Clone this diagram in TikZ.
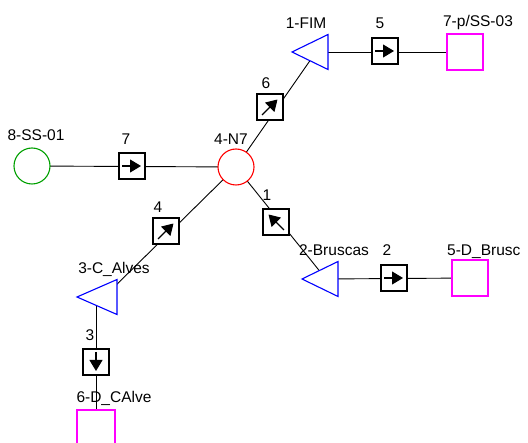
\documentclass[tikz,border=0pt]{standalone}
\usepackage{fontspec}
\setmainfont{Liberation Sans}
\usetikzlibrary{arrows.meta}
\definecolor{mag}{RGB}{255,0,255}
\definecolor{grn}{RGB}{0,160,0}
\definecolor{blu}{RGB}{0,0,255}
\definecolor{rd}{RGB}{255,0,0}
\begin{document}
\begin{tikzpicture}[x=1pt,y=-1pt,
  conn/.style={draw=black,line width=0.9pt},
  abox/.style={draw=black,fill=white,line width=1.5pt,minimum size=26pt,inner sep=0pt},
  arr/.style={line width=1.1pt,-{Triangle[length=11pt,width=13pt]}},
  circ/.style={circle,minimum size=36pt,inner sep=0pt,fill=white,line width=1.1pt},
  sq/.style={rectangle,minimum size=36pt,inner sep=0pt,fill=white,draw=mag,line width=1.3pt},
  tri/.style={draw=blu,fill=white,line width=1.1pt},
  lbl/.style={font=\fontsize{15.5}{17}\selectfont,inner sep=0pt,anchor=base}]
\useasboundingbox (0,0) rectangle (528,443);
\clip (0,0) rectangle (528,443);
% node centres
\coordinate (n7) at (236,167);
\coordinate (t1) at (316,52);
\coordinate (t2) at (326,279);
\coordinate (t3) at (104,297);
\coordinate (t3b) at (96,300);
\coordinate (s8c) at (32,166);
\coordinate (s7c) at (465,52);
\coordinate (s5c) at (470,278);
\coordinate (s6c) at (96,429);
% connectors
\draw[conn] (s8c) -- (n7);
\draw[conn] (n7) -- (t1);
\draw[conn] (t1) -- (s7c);
\draw[conn] (n7) -- (t2);
\draw[conn] (t2) -- (s5c);
\draw[conn] (n7) -- (t3);
\draw[conn] (t3b) -- (s6c);
% sources / nodes
\node[circ,draw=grn] (ss01) at (s8c) {};
\node[circ,draw=rd] (nN7) at (n7) {};
\node[sq] (p7) at (s7c) {};
\node[sq] (d5) at (s5c) {};
\node[sq,minimum size=38pt] (d6) at (s6c) {};
\draw[tri,shift={(t1)}] (-24,0) -- (12,-17.5) -- (12,17.5) -- cycle;
\draw[tri,shift={(t2)}] (-24,0) -- (12,-17.5) -- (12,17.5) -- cycle;
\draw[tri,shift={(t3)}] (-27,0) -- (13,-17.5) -- (13,17.5) -- cycle;
% arrow boxes
\node[abox] (b7) at (132,166) {};
\draw[arr] ([xshift=-10pt]b7.center) -- ([xshift=9pt]b7.center);
\node[abox] (b5) at (385,51) {};
\draw[arr] ([xshift=-10pt]b5.center) -- ([xshift=9pt]b5.center);
\node[abox] (b2) at (394,278) {};
\draw[arr] ([xshift=-10pt]b2.center) -- ([xshift=9pt]b2.center);
\node[abox] (b6) at (270,107) {};
\draw[arr] ([shift={(-8,8)}]b6.center) -- ([shift={(7.5,-7.5)}]b6.center);
\node[abox] (b4) at (166,231) {};
\draw[arr] ([shift={(-8,8)}]b4.center) -- ([shift={(7.5,-7.5)}]b4.center);
\node[abox] (b1) at (276,222) {};
\draw[arr] ([shift={(8,8)}]b1.center) -- ([shift={(-7.5,-7.5)}]b1.center);
\node[abox] (b3) at (96,362) {};
\draw[arr] ([yshift=10pt]b3.center) -- ([yshift=-9pt]b3.center);
% labels
\node[lbl] (l8) at (36,141) {8-SS-01};
\node[lbl] (l7) at (126,145) {7};
\node[lbl] (l4n) at (231,145) {4-N7};
\node[lbl] (l1f) at (306,29) {1-FIM};
\node[lbl] (l5) at (380,29) {5};
\node[lbl] (l7p) at (478,27) {7-p/SS-03};
\node[lbl] (l6) at (266,89) {6};
\node[lbl] (l4) at (158,213) {4};
\node[lbl] (l3c) at (114,274) {3-C\_Alves};
\node[lbl] (l1) at (267,201) {1};
\node[lbl] (l2b) at (334,256) {2-Bruscas};
\node[lbl] (l2) at (387,256) {2};
\node[lbl,anchor=base west] (l5d) at (447,256) {5-D\_Brusc};
\node[lbl] (l3) at (90,341) {3};
\node[lbl] (l6d) at (114,403) {6-D\_CAlve};
\end{tikzpicture}
\end{document}
